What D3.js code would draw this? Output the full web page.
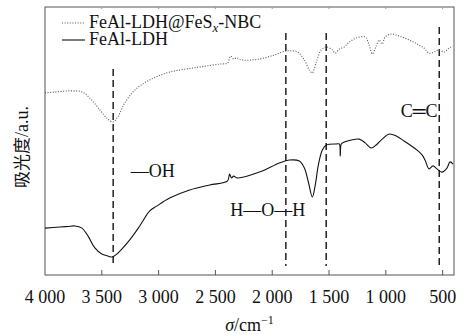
<!DOCTYPE html>
<html>
<head>
<meta charset="utf-8">
<script src="https://cdn.jsdelivr.net/npm/d3@7"></script>
</head>
<body style="margin:0">
<script>
// FTIR spectra, wavenumber (cm-1) vs absorbance (arbitrary units)
const wavenumberTicks = [4000, 3500, 3000, 2500, 2000, 1500, 1000, 500];

const seriesNames = ["FeAl-LDH@FeS", "FeAl-LDH"];

// FeAl-LDH@FeSx-NBC (dotted)
const nbcSpectrum = [
  [4000, 67.9], [3912, 68.3], [3780, 68.7], [3675, 68.3], [3605, 66.0], [3517, 61.6],
  [3447, 58.2], [3403, 57.1], [3359, 59.0], [3298, 64.2], [3210, 69.0], [3078, 72.8],
  [2903, 75.7], [2639, 77.6], [2464, 78.7], [2393, 79.1], [2367, 81.7], [2340, 80.6],
  [2314, 81.0], [2262, 80.2], [2112, 80.6], [1981, 82.1], [1875, 83.6], [1779, 83.2],
  [1717, 80.2], [1673, 76.5], [1647, 75.4], [1612, 79.5], [1568, 84.0], [1524, 85.1],
  [1471, 84.0], [1445, 82.8], [1410, 84.3], [1366, 85.1], [1322, 86.9], [1261, 88.4],
  [1182, 88.8], [1147, 85.8], [1120, 82.5], [1085, 85.4], [1059, 87.7], [1032, 86.2],
  [1006, 88.8], [953, 89.9], [883, 89.2], [795, 87.7], [725, 86.2], [664, 84.7],
  [620, 82.8], [576, 83.2], [532, 84.0], [488, 83.2], [444, 84.7], [409, 85.4]
];

// FeAl-LDH (solid)
const ldhSpectrum = [
  [4000, 17.5], [3868, 17.9], [3800, 18.1], [3737, 18.3], [3675, 17.5], [3622, 14.6],
  [3561, 10.1], [3500, 7.8], [3447, 7.1], [3412, 6.7], [3377, 7.5], [3324, 9.7],
  [3254, 13.1], [3166, 18.3], [3078, 23.9], [3017, 25.7], [2903, 28.7], [2727, 31.7],
  [2551, 33.6], [2393, 35.1], [2376, 37.7], [2358, 36.2], [2340, 36.9], [2305, 36.2],
  [2112, 38.4], [1937, 41.8], [1849, 42.9], [1761, 42.5], [1717, 39.9], [1682, 34.7],
  [1647, 29.1], [1621, 33.6], [1594, 41.0], [1559, 46.6], [1524, 48.5], [1436, 48.9],
  [1410, 48.9], [1401, 44.4], [1392, 48.9], [1366, 49.6], [1304, 50.4], [1234, 50.7],
  [1182, 49.3], [1129, 47.4], [1085, 48.5], [1032, 50.7], [971, 52.6], [909, 51.9],
  [839, 50.0], [725, 46.6], [681, 44.8], [655, 42.9], [620, 39.6], [585, 40.7],
  [550, 39.6], [506, 38.4], [462, 39.9], [435, 42.2], [409, 41.4]
];

// reference bands (dashed lines): wavenumber and top of the line
const bandPositions = [3400, 1880, 1525, 530];
const bandTops = [76.9, 90.3, 90.3, 92.5];
const bandBottom = 3.4;

// band labels
const bandLabels = ["\u2014OH", "H\u2014O\u2014H", "C\u2550C"];
const bandLabelPos = [[3245, 36.5], [2370, 22.0], [545, 59.0]];

const width = 465, height = 335;
const margin = { top: 7, right: 11, bottom: 60, left: 45 };

const svg = d3.select("body").append("svg")
  .attr("width", width)
  .attr("height", height);

const x = d3.scaleLinear()
  .domain([4000, 400])
  .range([margin.left, width - margin.right]);

const y = d3.scaleLinear()
  .domain([0, 100])
  .range([height - margin.bottom, margin.top]);

// plain serif text, same call as the font probe that worked
function label(sel, size) {
  return sel.style("font-family", "'Liberation Serif'").style("font-size", size + "px").style("fill", "#111");
}

// frame
svg.append("rect")
  .attr("x", margin.left)
  .attr("y", margin.top)
  .attr("width", width - margin.left - margin.right)
  .attr("height", height - margin.top - margin.bottom)
  .style("fill", "none")
  .style("stroke", "#555")
  .style("stroke-width", 1);

// bottom ticks (inward) and labels, built by hand from the scale
const gx = svg.append("g");
gx.selectAll("line")
  .data(wavenumberTicks.slice(1))
  .join("line")
  .attr("x1", d => x(d)).attr("x2", d => x(d))
  .attr("y1", height - margin.bottom).attr("y2", height - margin.bottom - 5)
  .style("stroke", "#555");
gx.selectAll("text")
  .data(wavenumberTicks)
  .join("text")
  .attr("x", d => x(d))
  .attr("y", 303)
  .attr("text-anchor", "middle")
  .call(label, 18)
  .text(d => d3.format(",")(d).replace(",", " "));

// top ticks, tiny and faint
svg.append("g").selectAll("line")
  .data(wavenumberTicks.slice(1))
  .join("line")
  .attr("x1", d => x(d)).attr("x2", d => x(d))
  .attr("y1", margin.top).attr("y2", margin.top + 2)
  .style("stroke", "#999");

// dashed band markers
svg.append("g").selectAll("line")
  .data(bandPositions)
  .join("line")
  .attr("x1", d => x(d))
  .attr("x2", d => x(d))
  .attr("y1", (d, i) => y(bandTops[i]))
  .attr("y2", y(bandBottom))
  .style("stroke", "#111")
  .style("stroke-width", 1.4)
  .style("stroke-dasharray", "7,4");

const line = d3.line()
  .x(d => x(d[0]))
  .y(d => y(d[1]))
  .curve(d3.curveCatmullRom.alpha(0.5));

svg.append("path")
  .datum(nbcSpectrum)
  .attr("d", line)
  .style("fill", "none")
  .style("stroke", "#555")
  .style("stroke-width", 1.1)
  .style("stroke-dasharray", "1,1.6");

svg.append("path")
  .datum(ldhSpectrum)
  .attr("d", line)
  .style("fill", "none")
  .style("stroke", "#111")
  .style("stroke-width", 1.1);

// band labels
svg.append("g").selectAll("text")
  .data(bandLabels)
  .join("text")
  .attr("x", (d, i) => x(bandLabelPos[i][0]))
  .attr("y", (d, i) => y(bandLabelPos[i][1]))
  .attr("text-anchor", (d, i) => i === 2 ? "end" : "start")
  .call(label, 18)
  .text(d => d);

// legend
const legendRows = [
  { y: 28, dash: "1,1.6", color: "#555" },
  { y: 45, dash: null, color: "#111" }
];
legendRows.forEach(r => {
  svg.append("line")
    .attr("x1", 62).attr("x2", 85)
    .attr("y1", r.y - 5).attr("y2", r.y - 5)
    .style("stroke", r.color)
    .style("stroke-width", 1.1)
    .style("stroke-dasharray", r.dash);
});
const t1 = svg.append("text").attr("x", 89).attr("y", legendRows[0].y).call(label, 18);
t1.append("tspan").text(seriesNames[0]);
t1.append("tspan").attr("dy", 4).style("font-style", "italic").style("font-size", "13px").text("x");
t1.append("tspan").attr("dy", -4).text("-NBC");
svg.append("text").attr("x", 89).attr("y", legendRows[1].y).call(label, 18).text(seriesNames[1]);

// axis titles
const xt = svg.append("text")
  .attr("x", (margin.left + width - margin.right) / 2)
  .attr("y", 331)
  .attr("text-anchor", "middle")
  .call(label, 18);
xt.append("tspan").style("font-style", "italic").text("\u03c3");
xt.append("tspan").text("/cm");
xt.append("tspan").attr("dy", -7).style("font-size", "12px").text("\u22121");

const yt = svg.append("text")
  .attr("transform", `translate(28,${(margin.top + height - margin.bottom) / 2 + 6}) rotate(-90)`)
  .attr("text-anchor", "middle")
  .call(label, 18);
yt.append("tspan").style("font-family", "'Noto Sans CJK SC'").style("font-size", "17px").text("\u5438\u5149\u5ea6");
yt.append("tspan").text("/a.u.");
</script>
</body>
</html>
